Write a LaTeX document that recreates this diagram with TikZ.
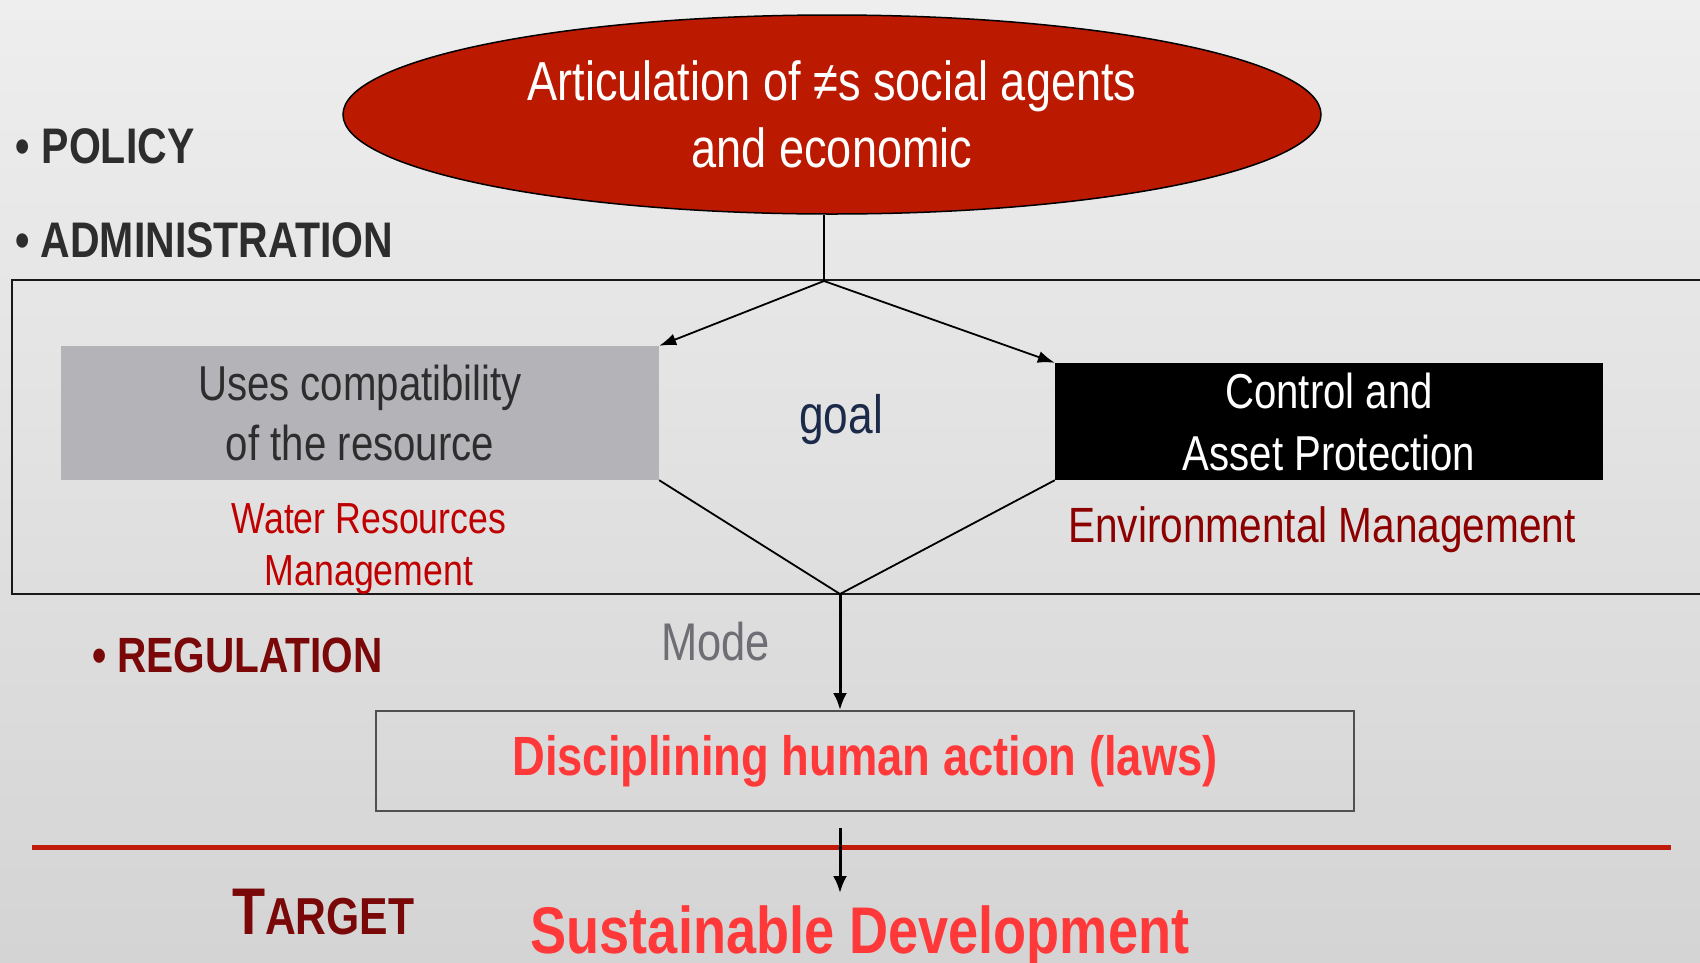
\documentclass[tikz,border=0pt]{standalone}
\usepackage{fontspec}
\setmainfont{Liberation Sans}[FakeStretch=0.82]
\usetikzlibrary{arrows.meta,shapes.geometric}

\definecolor{bgtop}{RGB}{238,238,238}
\definecolor{bgbot}{RGB}{212,212,212}
\definecolor{agentred}{RGB}{187,26,0}
\definecolor{usesgray}{RGB}{180,179,184}
\definecolor{txtdark}{RGB}{45,45,45}
\definecolor{wrmred}{RGB}{192,0,0}
\definecolor{envred}{RGB}{140,0,0}
\definecolor{regred}{RGB}{122,8,8}
\definecolor{brightred}{RGB}{255,57,57}
\definecolor{goalnavy}{RGB}{28,42,74}
\definecolor{modegray}{RGB}{110,110,116}
\definecolor{discgray}{RGB}{80,80,80}
\definecolor{rulered}{RGB}{192,26,10}

\tikzset{
  label text/.style={inner sep=0pt, outer sep=0pt},
  side head/.style={label text, anchor=base west, text=txtdark,
    font=\fontsize{50}{58}\selectfont\bfseries},
  link/.style={draw=black, line width=1.8pt},
  thinarrow/.style={link, -{Latex[length=17pt,width=12pt]}},
  thickarrow/.style={draw=black, line width=3pt, -{Latex[length=17pt,width=14pt]}},
  framebox/.style={draw=black!90, line width=2pt},
}

\begin{document}
\begin{tikzpicture}[x=1pt,y=-1pt]
  \useasboundingbox (0,0) rectangle (1700,962);
  \clip (0,0) rectangle (1700,962);
  \shade[top color=bgtop,bottom color=bgbot] (0,0) rectangle (1700,962);

  % frame around the administration level (runs off the right edge)
  \draw[framebox] (12,280) rectangle (1720,594);

  % top ellipse
  \node[ellipse, draw=black, line width=1.5pt, fill=agentred,
        minimum width=978pt, minimum height=199pt, inner sep=0pt,
        text=white, align=center, font=\fontsize{55}{67}\selectfont]
        (agents) at (832,114.5) {Articulation of ≠s social agents\\and economic};

  % the two branches
  \node[fill=usesgray, minimum width=598pt, minimum height=134pt, inner sep=0pt,
        text=txtdark, align=center, font=\fontsize{49}{60}\selectfont]
        (uses) at (360,413) {Uses compatibility\\of the resource};
  \node[fill=black, minimum width=548pt, minimum height=117pt, inner sep=0pt,
        text=white, align=center, font=\fontsize{49}{62}\selectfont]
        (ctrl) at (1329,421.5) {Control and\\Asset Protection};

  \node[label text, anchor=base, text=goalnavy, font=\fontsize{54}{60}\selectfont]
        (goal) at (841,433) {goal};

  \node[label text, anchor=base, text=wrmred, align=center,
        font=\fontsize{43.5}{52}\selectfont]
        (wrm) at (369,585) {Water Resources\\Management};
  \node[label text, anchor=base, text=envred, font=\fontsize{49.5}{58}\selectfont]
        (env) at (1322,542) {Environmental Management};

  % regulation box
  \node[draw=discgray, line width=2pt, minimum width=978pt, minimum height=100pt,
        inner sep=0pt, text=brightred, font=\fontsize{55.3}{60}\selectfont\bfseries]
        (disc) at (865,761) {Disciplining human action (laws)};

  % level headings
  \node[side head] (policy) at (16,163) {• POLICY};
  \node[side head] (admin) at (15,257) {• ADMINISTRATION};
  \node[side head, text=regred, font=\fontsize{49.5}{58}\selectfont\bfseries]
        (regul) at (92,672) {• REGULATION};
  \node[label text, anchor=base west, text=modegray, font=\fontsize{53}{60}\selectfont]
        (mode) at (661,660) {Mode};

  % target
  \node[label text, anchor=base west, text=regred, font=\bfseries]
        (target) at (232,934)
        {{\fontsize{66}{66}\selectfont T}{\fontsize{52}{52}\selectfont ARGET}};
  \node[label text, anchor=base, text=brightred, font=\fontsize{66}{70}\selectfont\bfseries]
        (sd) at (860,953) {Sustainable Development};

  % connector points
  \coordinate (apex) at (824,281);
  \coordinate (bottom) at (840,594);
  \coordinate (tstart) at (840,828);
  \coordinate (tend) at (840,893);

  \draw[link] (apex |- agents.south) -- (apex);
  \draw[thinarrow] (apex) -- (uses.north east);
  \draw[thinarrow] (apex) -- (ctrl.north west);
  \draw[link] (uses.south east) -- (bottom) -- (ctrl.south west);
  \draw[thickarrow] (bottom) -- (bottom |- disc.north);

  % separator and final arrow
  \draw[rulered, line width=5pt] (32,847) -- (1671,847);
  \draw[thickarrow] (tstart) -- (tend);
\end{tikzpicture}
\end{document}
